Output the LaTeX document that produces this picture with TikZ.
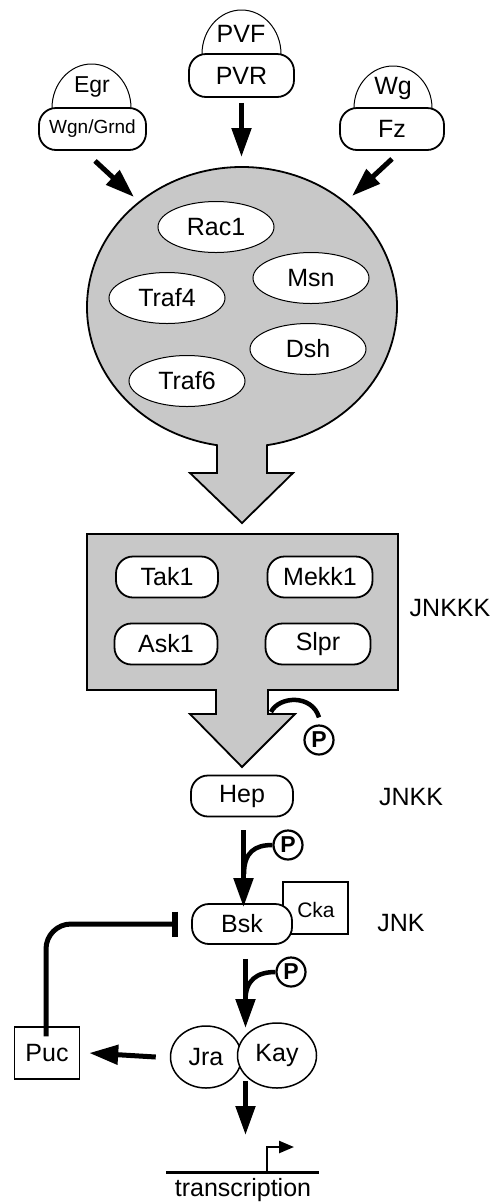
\documentclass[tikz,border=0pt]{standalone}
\usepackage{fontspec}
\setmainfont{Liberation Sans}
\usetikzlibrary{arrows.meta,shapes.geometric,positioning,calc}
\definecolor{cellgray}{RGB}{200,200,200}

\begin{document}
\begin{tikzpicture}[x=1pt, y=-1pt,
    font=\fontsize{25}{28}\selectfont,
    pill/.style={draw, fill=white, line width=1.8pt, rounded corners=17pt,
      minimum width=102pt, minimum height=41pt, inner sep=0pt},
    blob/.style={draw, fill=white, ellipse, line width=1pt,
      minimum width=116pt, minimum height=51pt, inner sep=0pt},
    dome/.style={draw, fill=white, line width=1pt},
    boxed/.style={draw, line width=1.4pt, inner sep=0pt},
    phos/.style={draw, circle, line width=2.2pt, minimum size=29pt, inner sep=0pt,
      font=\fontsize{23}{23}\selectfont\bfseries},
    fat/.style={line width=5pt, -{Triangle[length=29pt,width=19pt]}},
    hook/.style={line width=4.5pt}
  ]

    \useasboundingbox (0,0) rectangle (500,1203);

    % receptors
    \draw [dome] (52,108) arc [start angle=180, end angle=360, x radius=39.5, y radius=44];
    \draw [dome] (202,54) arc [start angle=180, end angle=360, x radius=39.5, y radius=44];
    \draw [dome] (354,108) arc [start angle=180, end angle=360, x radius=39, y radius=42];

    \node (egr) at (92,87) {\fontsize{23}{26}\selectfont Egr};
    \node (pvf) at (241,34) {PVF};
    \node (wg)  at (393,88) {Wg};

    \node [pill, minimum width=107pt, minimum height=42pt] (wgn) at (92.5,129)
      {\fontsize{19}{22}\selectfont Wgn/Grnd};
    \node [pill, minimum width=105pt, minimum height=43pt] (pvr) at (241.5,75.5) {PVR};
    \node [pill, minimum width=104pt, minimum height=42pt] (fz)  at (392,129) {Fz};

    \coordinate (rimL) at (134,197);
    \coordinate (rimT) at (241.5,157);
    \coordinate (rimR) at (352,196);

    \draw [fat] ([shift={(2.5pt,-10pt)}]wgn.south) -- (rimL);
    \draw [fat] ([yshift=-5pt]pvr.south) -- (rimT);
    \draw [fat] ([yshift=-8pt]fz.south) -- (rimR);

    % cytoplasmic adaptors
    \coordinate (cen) at (242,307);
    \filldraw [fill=cellgray, line width=1.8pt]
      ($(cen)+(99.28:155 and 140)$)
        arc [start angle=99.28, end angle=440.72, x radius=155, y radius=140]
        -- (267,473) -- (293,473) -- (242,523) -- (190,473) -- (217,473) -- cycle;

    \node [blob] (rac)   at (216,227) {Rac1};
    \node [blob] (msn)   at (311,278) {Msn};
    \node [blob] (traf4) at (167,298) {Traf4};
    \node [blob] (dsh)   at (308,349) {Dsh};
    \node [blob] (traf6) at (187,381) {Traf6};

    % JNKKK
    \filldraw [fill=cellgray, line width=1.8pt]
      (87,534) -- (398,534) -- (398,690) -- (268,690) -- (268,714) -- (295,714)
      -- (242,767) -- (190,714) -- (216,714) -- (216,690) -- (87,690) -- cycle;

    \node [pill] (tak)  at (167,577) {Tak1};
    \node [pill, minimum width=105pt] (mekk) at (320,577) {Mekk1};
    \node [pill, minimum width=103pt] (ask)  at (166,644) {Ask1};
    \node [pill, minimum width=105pt] (slpr) at (318,644) {Slpr};

    \node (jnkkk) at (450,608) {JNKKK};

    \node [phos] (p0) at (319,740) {P};
    \coordinate (k0) at (271,712);
    \draw [hook] (k0) .. controls (279,696) and (312,694) .. ([yshift=7pt]p0.north);

    % JNKK
    \node [pill] (hep) at (242,796) {Hep};
    \node (jnkk) at (411,797) {JNKK};

    % JNK
    \node [boxed, minimum width=65pt, minimum height=52pt] (cka) at (315.5,908) {};
    \node at (316,910) {\fontsize{21}{24}\selectfont Cka};
    \node [pill, minimum width=100pt, minimum height=40pt] (bsk) at (242,924) {Bsk};
    \node (jnk) at (401,923) {JNK};

    \draw [fat] ([shift={(1.5pt,-13pt)}]hep.south) -- ([shift={(1.5pt,-4pt)}]bsk.north);
    \node [phos] (p1) at (288,845) {P};
    \coordinate (k1) at (244,874);
    \draw [hook] (k1) .. controls (244,852) and (255,845) .. (p1.west);

    % Jun/Fos
    \node [draw, ellipse, fill=white, line width=1.5pt, minimum width=71pt,
      minimum height=62pt, inner sep=0pt] (jra) at (206,1057) {Jra};
    \node [draw, ellipse, fill=white, line width=1.5pt, minimum width=79pt,
      minimum height=65pt, inner sep=0pt] (kay) at (277,1055.5) {Kay};

    \coordinate (notch) at (245.5,1028);
    \draw [fat] ([shift={(3.5pt,-14pt)}]bsk.south) -- (notch);
    \node [phos] (p2) at (291,972) {P};
    \coordinate (k2) at (245.5,1000);
    \draw [hook] (k2) .. controls (245.5,980) and (257,972) .. (p2.west);

    % feedback
    \node [boxed, minimum width=65pt, minimum height=52pt] (puc) at (47,1053) {Puc};
    \draw [fat] ([xshift=-14pt]jra.west) -- ([xshift=9pt]puc.east);
    \draw [line width=5pt, rounded corners=25pt, -{Bar[width=25pt,line width=6pt]}]
      ([shift={(-1pt,-10pt)}]puc.north) |- ([xshift=-13pt]bsk.west);

    % target gene
    \coordinate (gl)  at (166,1172);
    \coordinate (gr)  at (319,1172);
    \coordinate (tss) at (267,1172);
    \coordinate (out) at (245.5,1081);
    \coordinate (dna) at (245.5,1135);
    \draw [fat] (out) -- (dna);
    \draw [line width=3pt] (gl) -- (gr);
    \draw [line width=2.5pt, -{Triangle[length=15pt,width=12pt]}]
      (tss) -- ++(0,-25) -- ++(27,0);
    \node (tr) at (243,1190) {transcription};

\end{tikzpicture}
\end{document}
